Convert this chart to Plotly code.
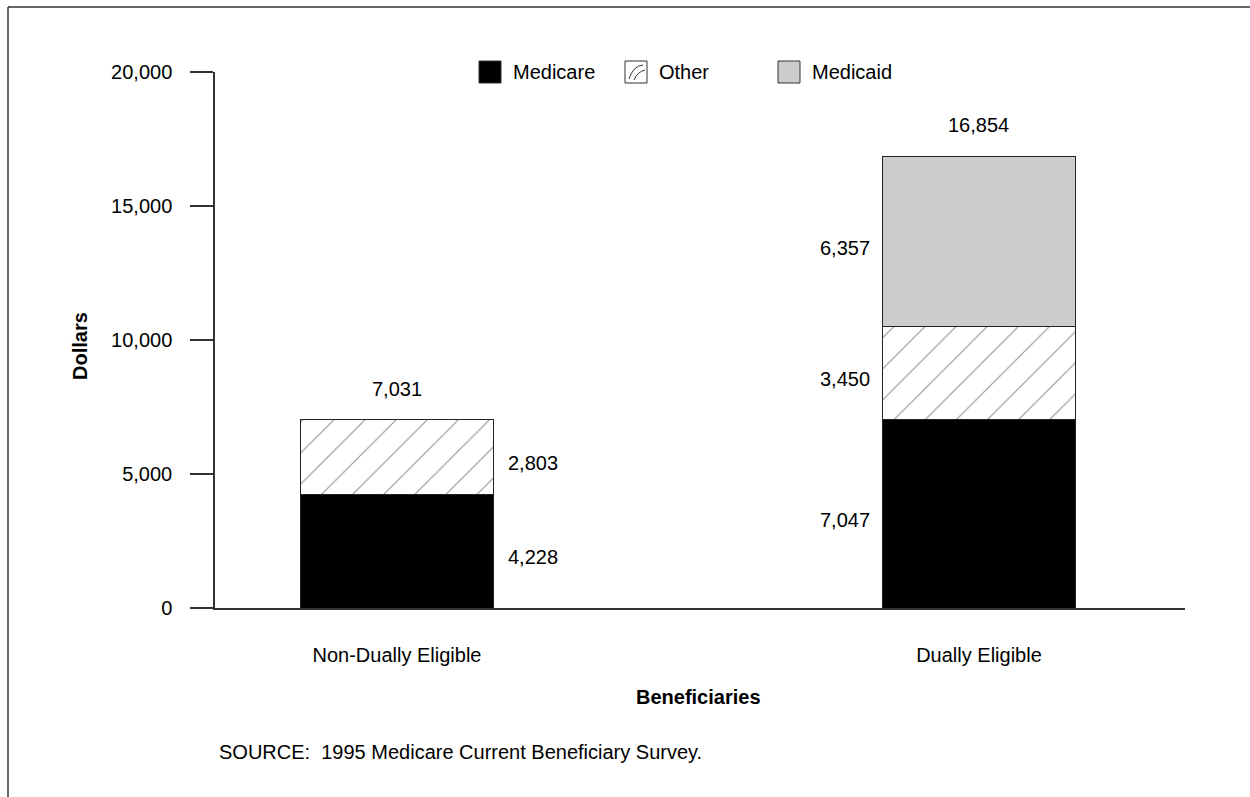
import plotly.graph_objects as go

# ---- data ----
categories = ["Non-Dually Eligible", "Dually Eligible"]
medicare = [4228, 7047]
other = [2803, 3450]
medicaid = [None, 6357]
totals = [7031, 16854]
yticks = [0, 5000, 10000, 15000, 20000]

# ---- layout constants ----
W, H = 1250, 797
L, R, T, B = 215, 65, 72, 189
PW, PH = W - L - R, H - T - B
BAR_W = 0.333
FONT = "Liberation Sans, Arial, Helvetica, sans-serif"
FS = 20

def px(x):
    return (x - L) / PW

def py(y):
    return (H - B - y) / PH

xs = list(range(len(categories)))

fig = go.Figure()
fig.add_trace(go.Bar(x=xs, y=medicare, width=BAR_W, name="Medicare",
                     marker=dict(color="black", line=dict(color="#222", width=1))))
fig.add_trace(go.Bar(x=xs, y=other, width=BAR_W, name="Other",
                     marker=dict(color="white", line=dict(color="#222", width=1),
                                 pattern=dict(shape="/", size=22, solidity=0.05,
                                              fgcolor="#222", bgcolor="white",
                                              fillmode="overlay"))))
fig.add_trace(go.Bar(x=xs, y=medicaid, width=BAR_W, name="Medicaid",
                     marker=dict(color="#cccccc", line=dict(color="#222", width=1))))

ann = []
# value labels
for i in xs:
    segs = [medicare[i], other[i], medicaid[i]]
    base = 0
    for v in segs:
        if v is None:
            continue
        mid = base + v / 2
        if i == 0:
            ann.append(dict(x=i + BAR_W / 2, y=mid, xref="x", yref="y", text=f"{v:,}",
                            xanchor="left", yanchor="middle", xshift=12, yshift=-6,
                            showarrow=False))
        else:
            ann.append(dict(x=i - BAR_W / 2, y=mid, xref="x", yref="y", text=f"{v:,}",
                            xanchor="right", yanchor="middle", xshift=-10, yshift=-6,
                            showarrow=False))
        base += v
    ann.append(dict(x=i, y=totals[i], xref="x", yref="y", text=f"{totals[i]:,}",
                    xanchor="center", yanchor="bottom", yshift=18, showarrow=False))

# axis titles and source
ann.append(dict(x=px(698), y=py(697), xref="paper", yref="paper", text="<b>Beneficiaries</b>",
                showarrow=False, xanchor="center", yanchor="middle"))
ann.append(dict(x=px(80), y=py(346), xref="paper", yref="paper", text="<b>Dollars</b>",
                textangle=-90, showarrow=False, xanchor="center", yanchor="middle"))
ann.append(dict(x=px(217), y=py(752), xref="paper", yref="paper",
                text="SOURCE:  1995 Medicare Current Beneficiary Survey.",
                showarrow=False, xanchor="left", yanchor="middle", font=dict(size=20)))

# manual legend
legend_items = [("Medicare", 479, "black"), ("Other", 625, "white"), ("Medicaid", 778, "#cccccc")]
shapes = []
for name, x0, col in legend_items:
    shapes.append(dict(type="rect", xref="paper", yref="paper",
                       x0=px(x0), x1=px(x0 + 22), y0=py(83), y1=py(61),
                       fillcolor=col, line=dict(color="#333", width=1)))
    ann.append(dict(x=px(x0 + 32), y=py(72), xref="paper", yref="paper", text=name,
                    showarrow=False, xanchor="left", yanchor="middle"))
# small strokes inside the "Other" swatch
shapes.append(dict(type="path", xref="paper", yref="paper",
                   path=f"M {px(629)},{py(79)} Q {px(633)},{py(66)} {px(643)},{py(65)}",
                   line=dict(color="#333", width=1)))
shapes.append(dict(type="path", xref="paper", yref="paper",
                   path=f"M {px(634)},{py(80)} Q {px(637)},{py(72)} {px(645)},{py(70)}",
                   line=dict(color="#333", width=1)))

# frame (left and top edges)
shapes.append(dict(type="line", xref="paper", yref="paper",
                   x0=px(8), x1=px(8), y0=py(7), y1=py(797), line=dict(color="#333", width=1.5)))
shapes.append(dict(type="line", xref="paper", yref="paper",
                   x0=px(8), x1=px(1250), y0=py(7), y1=py(7), line=dict(color="#333", width=1.5)))

fig.update_layout(
    barmode="stack",
    width=W, height=H,
    margin=dict(l=L, r=R, t=T, b=B, pad=0),
    paper_bgcolor="white", plot_bgcolor="white",
    font=dict(family=FONT, size=FS, color="black"),
    showlegend=False,
    annotations=ann,
    shapes=shapes,
)
fig.update_xaxes(range=[-0.3127, 1.354], tickvals=xs, ticktext=categories,
                 showline=True, linecolor="#333", linewidth=1.5, ticks="",
                 showgrid=False, zeroline=False, ticklabelstandoff=28)
fig.update_yaxes(range=[0, 20000], tickvals=yticks, tickformat=",",
                 showline=True, linecolor="#333", linewidth=1.5,
                 ticks="outside", ticklen=23, tickcolor="#333", tickwidth=1.5,
                 showgrid=False, zeroline=False, ticklabelstandoff=14)

fig.write_html("out.html")
